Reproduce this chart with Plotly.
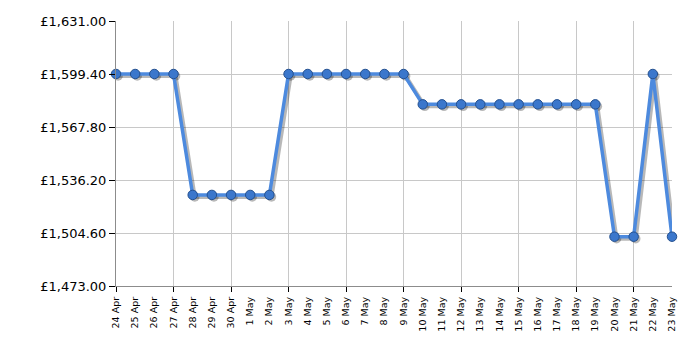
import plotly.graph_objects as go
import pandas as pd
from datetime import timedelta

dates = list(pd.date_range("2024-04-24", "2024-05-23", freq="D"))
labels = [f"{d.day} {d.strftime('%b')}" for d in dates]
prices = [1599.40, 1599.40, 1599.40, 1599.40,
          1527.30, 1527.30, 1527.30, 1527.30, 1527.30,
          1599.40, 1599.40, 1599.40, 1599.40, 1599.40, 1599.40, 1599.40,
          1581.30, 1581.30, 1581.30, 1581.30, 1581.30, 1581.30, 1581.30, 1581.30, 1581.30, 1581.30,
          1502.40, 1502.40,
          1599.40,
          1502.40]
y_ticks = [1473.00, 1504.60, 1536.20, 1567.80, 1599.40, 1631.00]
y_ticktext = [f"£{v:,.2f}" for v in y_ticks]
grid_dates = dates[::3]

x_range = [dates[0], dates[-1]]
shift = timedelta(hours=2.6)
x_range_sh = [dates[0] - shift, dates[-1] - shift]
y_range = [1473, 1631]
y_range_sh = [1473 + 1.2, 1631 + 1.2]

LINE = "#4d8ade"
MARK = "#3b77cc"

fig = go.Figure()
fig.add_trace(go.Scatter(x=dates, y=prices, mode="lines", line=dict(width=0),
                         opacity=0, hoverinfo="skip", showlegend=False,
                         xaxis="x", yaxis="y"))
fig.add_trace(go.Scatter(x=dates, y=prices, mode="lines+markers",
                         line=dict(color="rgba(0,0,0,0.28)", width=4),
                         marker=dict(size=9.5, color="rgba(0,0,0,0.28)"),
                         cliponaxis=False, hoverinfo="skip", showlegend=False,
                         xaxis="x2", yaxis="y2"))
fig.add_trace(go.Scatter(x=dates, y=prices, mode="lines+markers",
                         line=dict(color=LINE, width=3.5),
                         marker=dict(size=9.5, color=MARK, line=dict(color="#24508f", width=1)),
                         cliponaxis=False, showlegend=False,
                         xaxis="x3", yaxis="y3"))

fig.update_layout(
    width=700, height=350,
    margin=dict(l=116, r=28, t=21, b=64),
    paper_bgcolor="white", plot_bgcolor="white",
    font=dict(family="DejaVu Sans, Verdana, sans-serif", color="#000000"),
    xaxis=dict(type="date", range=x_range, tickmode="array", tickvals=grid_dates,
               showticklabels=False, ticks="outside", ticklen=5, tickcolor="#000000",
               showgrid=True, gridcolor="#c8c8c8", gridwidth=1,
               showline=True, linecolor="#8c8c8c", linewidth=1, zeroline=False),
    yaxis=dict(range=y_range, tickmode="array", tickvals=y_ticks, ticktext=y_ticktext,
               ticks="outside", ticklen=6, tickcolor="#000000",
               tickfont=dict(size=13, color="#000000"),
               showgrid=True, gridcolor="#c8c8c8", gridwidth=1,
               showline=True, linecolor="#8c8c8c", linewidth=1, zeroline=False),
    xaxis2=dict(type="date", range=x_range_sh, overlaying="x", anchor="y",
                visible=False),
    yaxis2=dict(range=y_range_sh, overlaying="y", anchor="x", visible=False),
    xaxis3=dict(type="date", range=x_range, overlaying="x", anchor="y",
                tickmode="array", tickvals=dates, ticktext=labels, tickangle=-90,
                ticks="", showgrid=False, showline=False, zeroline=False,
                tickfont=dict(size=9.5, color="#000000"), ticklabelstandoff=8),
    yaxis3=dict(range=y_range, overlaying="y", anchor="x", visible=False),
)

fig.write_html("out.html")
